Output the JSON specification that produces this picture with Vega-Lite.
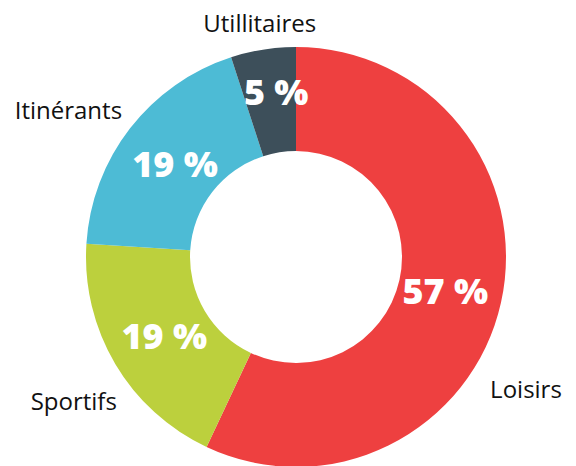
{
  "$schema": "https://vega.github.io/schema/vega-lite/v6.json",
  "width": 560,
  "height": 418,
  "autosize": "none",
  "padding": {"left": 16, "right": 0, "top": 48, "bottom": 0},
  "background": "#ffffff",
  "config": {"view": {"stroke": null}, "font": "Open Sans"},
  "data": {
    "values": [
      {"category": "Loisirs", "value": 57, "label": "57 %", "rank": 1},
      {"category": "Sportifs", "value": 19, "label": "19 %", "rank": 2},
      {"category": "Itinérants", "value": 19, "label": "19 %", "rank": 3},
      {"category": "Utillitaires", "value": 5, "label": "5 %", "rank": 4}
    ]
  },
  "encoding": {
    "theta": {"field": "value", "type": "quantitative", "stack": true},
    "order": {"field": "rank", "type": "quantitative"}
  },
  "layer": [
    {
      "mark": {"type": "arc", "radius": 210, "radius2": 106},
      "encoding": {
        "color": {
          "field": "category",
          "type": "nominal",
          "scale": {
            "domain": ["Loisirs", "Sportifs", "Itinérants", "Utillitaires"],
            "range": ["#EE4040", "#BCD03D", "#4DBBD5", "#3D4F5A"]
          },
          "legend": null
        }
      }
    },
    {
      "mark": {"type": "text", "radius": 153, "dy": 3, "font": "Open Sans", "fontWeight": 800, "fontSize": 36, "fill": "#ffffff", "align": "center", "baseline": "middle"},
      "encoding": {"text": {"condition": {"test": "datum.category !== 'Utillitaires'", "field": "label"}, "value": ""}}
    },
    {
      "mark": {"type": "text", "radius": 165, "dx": 6, "font": "Open Sans", "fontWeight": 800, "fontSize": 36, "fill": "#ffffff", "align": "center", "baseline": "middle"},
      "encoding": {"text": {"condition": {"test": "datum.category === 'Utillitaires'", "field": "label"}, "value": ""}}
    },
    {
      "mark": {"type": "text", "radius": 264, "dx": 5, "dy": 12, "font": "Open Sans", "fontSize": 24, "fill": "#111111", "align": "center", "baseline": "middle"},
      "encoding": {"text": {"condition": {"test": "datum.category === 'Sportifs'", "field": "category"}, "value": ""}}
    },
    {
      "mark": {"type": "text", "radius": 264, "dx": -19, "dy": 17, "font": "Open Sans", "fontSize": 24, "fill": "#111111", "align": "center", "baseline": "middle"},
      "encoding": {"text": {"condition": {"test": "datum.category === 'Itinérants'", "field": "category"}, "value": ""}}
    },
    {
      "mark": {"type": "text", "radius": 238, "dx": 1, "dy": 3, "font": "Open Sans", "fontSize": 24, "fill": "#111111", "align": "center", "baseline": "middle"},
      "encoding": {"text": {"condition": {"test": "datum.category === 'Utillitaires'", "field": "category"}, "value": ""}}
    },
    {
      "mark": {"type": "text", "radius": 250, "dx": -14, "dy": 79, "font": "Open Sans", "fontSize": 24, "fill": "#111111", "align": "center", "baseline": "middle"},
      "encoding": {"text": {"condition": {"test": "datum.category === 'Loisirs'", "field": "category"}, "value": ""}}
    }
  ]
}
